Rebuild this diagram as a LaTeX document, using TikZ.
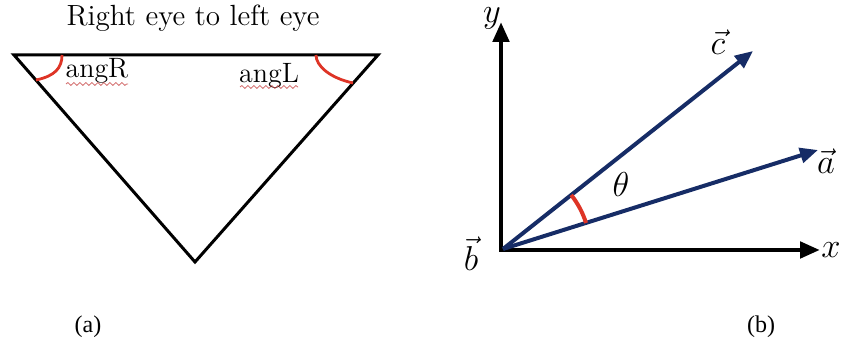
\documentclass[tikz,border=0pt]{standalone}
\usepackage{amsmath,amssymb}
\usepackage{fontspec}
\newfontfamily\subcapfont{LiberationSerif-Regular.ttf}
\usepackage{tikz}
\usetikzlibrary{arrows.meta,decorations.pathmorphing,calc}
\definecolor{vecblue}{RGB}{22,44,102}
\definecolor{angred}{RGB}{222,52,38}

\begin{document}
\begin{tikzpicture}[x=0.5pt,y=0.5pt,
  axis/.style={line width=2.4pt,-{Triangle[length=10pt,width=8pt]}},
  vec/.style={line width=2pt,vecblue,-{Triangle[length=9pt,width=7.5pt]}},
  squiggle/.style={red!70!black,opacity=0.6,line width=0.4pt,decorate,
    decoration={snake,amplitude=0.7pt,segment length=3pt}},
  lab/.style={font=\fontsize{16}{18}\selectfont,inner sep=1pt}]
  \useasboundingbox (0,0) rectangle (847,351);
  % (a) triangle
  \coordinate (tl) at (14,296);
  \coordinate (tr) at (378,296);
  \coordinate (bt) at (195,89);
  \draw[line width=1.5pt] (tl) -- (tr) -- (bt) -- cycle;
  \node (title) at (193,333) {\fontsize{14.6}{16}\selectfont Right eye to left eye};
  \node (angR) at (97,280) {\fontsize{14}{16}\selectfont angR};
  \node (angL) at (269,275) {\fontsize{14}{16}\selectfont angL};
  \draw[squiggle] (66,267) -- (128,267);
  \draw[squiggle] (240,264) -- (298,264);
  \draw[angred,line width=1.4pt] (62,296) .. controls (62,283) and (55,275) .. (36,271);
  \draw[angred,line width=1.4pt] (316,296) .. controls (316,285) and (330,273) .. (353,268);
  \node (capa) at (88,24) {\subcapfont\fontsize{12}{14}\selectfont (a)};
  % (b) vectors
  \coordinate (O) at (503,102);
  \coordinate (ytip) at (501,329);
  \coordinate (xtip) at (820,101);
  \draw[axis] (501,100) -- (ytip);
  \draw[axis] (499,101) -- (xtip);
  \draw[vec] (O) -- (753,300) coordinate (ctip);
  \draw[vec] (O) -- (818,201) coordinate (atip);
  \draw[angred,line width=2pt] ($(O)+(38.4:87)$) arc[start angle=38.4,end angle=17.4,radius=87];
  \node[lab] (ylab) at (492,333) {$y$};
  \node[lab] (xlab) at (831,101) {$x$};
  \node[lab] (clab) at (718,309) {$\vec{c}$};
  \node[lab] (alab) at (826,190) {$\vec{a}$};
  \node[lab] (blab) at (471,97) {$\vec{b}$};
  \node[lab] (theta) at (621,166) {$\theta$};
  \node (capb) at (761,24) {\subcapfont\fontsize{12}{14}\selectfont (b)};
\end{tikzpicture}
\end{document}
